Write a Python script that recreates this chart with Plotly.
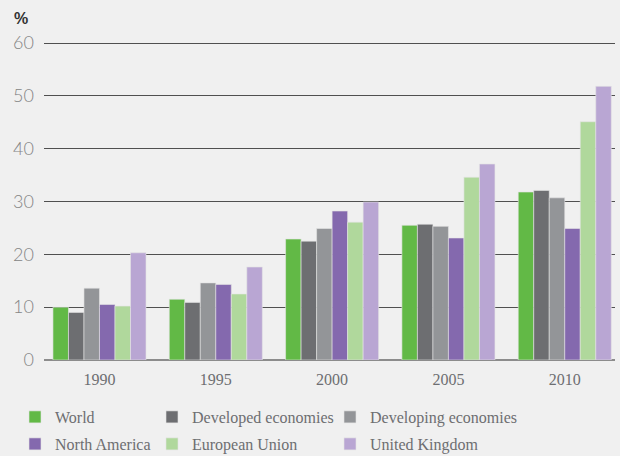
import plotly.graph_objects as go

years = ["1990", "1995", "2000", "2005", "2010"]
world = [10.0, 11.5, 22.9, 25.5, 31.8]
developed = [9.0, 10.9, 22.5, 25.7, 32.1]
developing = [13.6, 14.6, 24.9, 25.3, 30.7]
north_america = [10.5, 14.3, 28.2, 23.1, 24.9]
european_union = [10.2, 12.5, 26.1, 34.6, 45.1]
united_kingdom = [20.3, 17.6, 29.9, 37.1, 51.8]

series_names = ["World", "Developed economies", "Developing economies",
                "North America", "European Union", "United Kingdom"]
series_values = [world, developed, developing, north_america, european_union, united_kingdom]
series_colors = ["#62b946", "#6d6e71", "#939598", "#8469ae", "#b0d89c", "#b9a6d3"]

# legend slot layout (pixel positions of each legend box)
legend_ids = ["legend2", "legend3", "legend4", "legend5", "legend6", "legend7"]
legend_px = [(15, 400), (152, 400), (330, 400), (15, 427), (152, 427), (330, 427)]

L, R, T, B = 44, 5, 42, 96
W, H = 620, 456
pw, ph = W - L - R, H - T - B

fig = go.Figure()
for name, vals, color, leg in zip(series_names, series_values, series_colors, legend_ids):
    fig.add_trace(go.Bar(
        x=years, y=vals, name=name, legend=leg, showlegend=True,
        marker=dict(color=color, line=dict(color="#e4e4e4", width=0.6)),
    ))

legend_font = dict(family="Liberation Serif", size=16, color="#6d6e71")
legends = {}
for leg, (px, py) in zip(legend_ids, legend_px):
    legends[leg] = dict(
        xref="paper", yref="paper", xanchor="left", yanchor="top",
        x=(px - L) / pw, y=(H - B - py) / ph,
        orientation="v", font=legend_font, bgcolor="rgba(0,0,0,0)",
        itemwidth=30, tracegroupgap=0, visible=True,
    )

fig.update_layout(
    width=W, height=H, showlegend=True,
    paper_bgcolor="#f0f0f0", plot_bgcolor="#f0f0f0",
    margin=dict(l=L, r=R, t=T, b=B, autoexpand=False),
    barmode="group", bargap=0.2, bargroupgap=0,
    font=dict(family="Liberation Serif", color="#6d6e71"),
    xaxis=dict(
        type="category", range=[-0.477, 4.432],
        showgrid=False, showline=False, zeroline=False, ticks="",
        ticklabelstandoff=8,
        tickfont=dict(family="Liberation Serif", size=16, color="#6d6e71"),
    ),
    yaxis=dict(
        range=[0, 60.2], tickvals=[0, 10, 20, 30, 40, 50, 60],
        showgrid=True, gridcolor="#505050", gridwidth=1.3,
        zeroline=True, zerolinecolor="#8c8c8c", zerolinewidth=1.5, showline=False,
        ticks="", ticklabelstandoff=9,
        tickfont=dict(family="Lato", size=18, color="#858585", weight=300),
    ),
    annotations=[dict(
        text="<b>%</b>", xref="paper", yref="paper", x=(12 - L) / pw, y=1 + (T - 18) / ph,
        xanchor="left", yanchor="middle", showarrow=False,
        font=dict(family="Liberation Sans", size=16, color="#333333"),
    )],
    **legends,
)

fig.write_html("out.html", config={"displayModeBar": False},
               post_script="document.body.style.margin='0';")
